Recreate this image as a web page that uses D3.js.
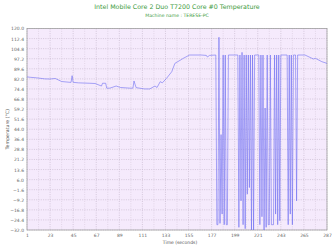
<!DOCTYPE html>
<html>
<head>
<meta charset="utf-8">
<script src="https://cdn.jsdelivr.net/npm/d3@7"></script>
<style>
  body { margin: 0; background: #fff; }
  svg { display: block; font-family: "DejaVu Sans", sans-serif; }
</style>
</head>
<body>
<svg></svg>
<script>
// chart data
const title = 'Intel Mobile Core 2 Duo T7200 Core #0 Temperature'
const subtitle = 'Machine name : TERESE-PC'
const yTicks = [120.0, 112.4, 104.8, 97.2, 89.6, 82.0, 74.4, 66.8, 59.2, 51.6, 44.0, 36.4, 28.8, 21.2, 13.6, 6.0, -1.6, -9.2, -16.8, -24.4, -32.0]
const xTicks = [1, 23, 45, 67, 89, 111, 133, 155, 177, 199, 221, 243, 265, 287]

const times = [1, 4, 10, 18, 23, 28, 34, 42, 43, 44, 45, 50, 61, 66, 72, 73, 76, 77, 80, 86, 90, 99, 102, 103, 105, 113, 118, 123, 125, 128, 130, 134, 139, 142, 148, 150, 156, 167, 172, 173, 175,
    181, 182, 183, 184, 185, 186, 187, 188, 189, 190, 191, 192, 193, 202, 203, 204, 205, 206, 207, 208, 209, 210, 211, 212, 213, 214, 215, 216, 217, 218, 222, 223, 224, 225, 226, 227, 228, 229, 230, 231, 232, 233, 234, 236, 237, 238, 239, 240, 241, 242, 243, 249, 250, 251, 252, 253, 254, 255, 257, 258, 259,
    266, 274, 276, 282, 287]
const temps = [83.5, 83.2, 82.8, 82.0, 81.9, 82.3, 80.0, 79.4, 79.4, 84.4, 79.4, 79.0, 78.7, 78.5, 76.6, 78.7, 78.7, 75.0, 75.0, 76.6, 75.5, 75.0, 75.0, 80.4, 75.4, 74.4, 74.4, 76.6, 75.5, 79.9, 79.0, 82.4, 87.4, 93.7, 96.5, 97.5, 100.0, 100.0, 99.7, 98.5, 99.7,
    100, -28, -28, 113.4, -27, 40, -20, 100, -28, 100, -28, -28, 100, 100, -30, 100, -10, 102, -28, 100, -31, 100, -5, 100, 0, 100, -32, 100, -32, 100, 100, -28, 100, -22, 100, -32, 60, -30, 100, -28, -28, 100, -28, -28, 100, -20, 100, -28, 100, -25, 100, 100, -28, 100, -20, 100, -28, 100, 100, -10, 100,
    100, 97.0, 97.5, 95.0, 93.7]

const width = 334
const height = 250
const margin = { top: 28.5, right: 7, bottom: 20, left: 27 }

let svg = d3.select('svg').attr('width', width).attr('height', height)

let xScale = d3.scaleLinear().domain([1, 287]).range([margin.left, width - margin.right])
let yScale = d3.scaleLinear().domain([-32, 120]).range([height - margin.bottom, margin.top])

// titles
svg.append('text')
    .attr('x', 177).attr('y', 8.5)
    .attr('text-anchor', 'middle')
    .attr('font-size', 6.3)
    .attr('fill', '#3c9a3c')
    .text(title)
svg.append('text')
    .attr('x', 177).attr('y', 17)
    .attr('text-anchor', 'middle')
    .attr('font-size', 4.6)
    .attr('fill', '#3c9a3c')
    .text(subtitle)

// plot background
svg.append('rect')
    .attr('x', margin.left).attr('y', margin.top)
    .attr('width', width - margin.right - margin.left)
    .attr('height', height - margin.bottom - margin.top)
    .attr('fill', '#f5eafc')

// grid
let minorX = d3.range(1, 288, 11)
svg.append('g').selectAll('line')
    .data(minorX)
    .enter().append('line')
    .attr('x1', d => xScale(d)).attr('x2', d => xScale(d))
    .attr('y1', margin.top).attr('y2', height - margin.bottom)
    .attr('stroke', (d, i) => i % 2 === 0 ? '#cdbfd3' : '#ddd0e2')
    .attr('stroke-width', 0.8)
    .attr('stroke-dasharray', '1,1.3')
svg.append('g').selectAll('line')
    .data(yTicks)
    .enter().append('line')
    .attr('x1', margin.left).attr('x2', width - margin.right)
    .attr('y1', d => yScale(d)).attr('y2', d => yScale(d))
    .attr('stroke', '#cdbfd3')
    .attr('stroke-width', 0.8)
    .attr('stroke-dasharray', '1,1.3')

// axes
let yAxis = d3.axisLeft(yScale).tickValues(yTicks).tickFormat(d3.format('.1f')).tickSize(0).tickPadding(3)
let xAxis = d3.axisBottom(xScale).tickValues(xTicks).tickFormat(d3.format('d')).tickSize(0).tickPadding(4)

let gy = svg.append('g')
    .attr('transform', 'translate(' + margin.left + ',0)')
    .call(yAxis)
let gx = svg.append('g')
    .attr('transform', 'translate(0,' + (height - margin.bottom) + ')')
    .call(xAxis)
;[gx, gy].forEach(g => {
    g.select('.domain').remove()
    g.selectAll('text').attr('font-size', 4.5).attr('fill', '#666').attr('font-family', '"DejaVu Sans", sans-serif')
})

// border
svg.append('rect')
    .attr('x', margin.left).attr('y', margin.top)
    .attr('width', width - margin.right - margin.left)
    .attr('height', height - margin.bottom - margin.top)
    .attr('fill', 'none')
    .attr('stroke', '#a0a0a0')
    .attr('stroke-width', 0.8)

// axis labels
svg.append('text')
    .attr('transform', 'translate(9,' + ((margin.top + height - margin.bottom) / 2) + ') rotate(-90)')
    .attr('text-anchor', 'middle')
    .attr('font-size', 4.7)
    .attr('fill', '#555')
    .text('Temperature (°C)')
svg.append('text')
    .attr('x', 180).attr('y', 243.5)
    .attr('text-anchor', 'middle')
    .attr('font-size', 4.5)
    .attr('fill', '#555')
    .text('Time (seconds)')

// series
let line = d3.line()
    .x((d, i) => xScale(times[i]))
    .y((d, i) => yScale(temps[i]))

svg.append('path')
    .datum(temps)
    .attr('d', line)
    .attr('fill', 'none')
    .attr('stroke', '#6e6ef2')
    .attr('stroke-opacity', 0.8)
    .attr('stroke-width', 0.75)
</script>
</body>
</html>
